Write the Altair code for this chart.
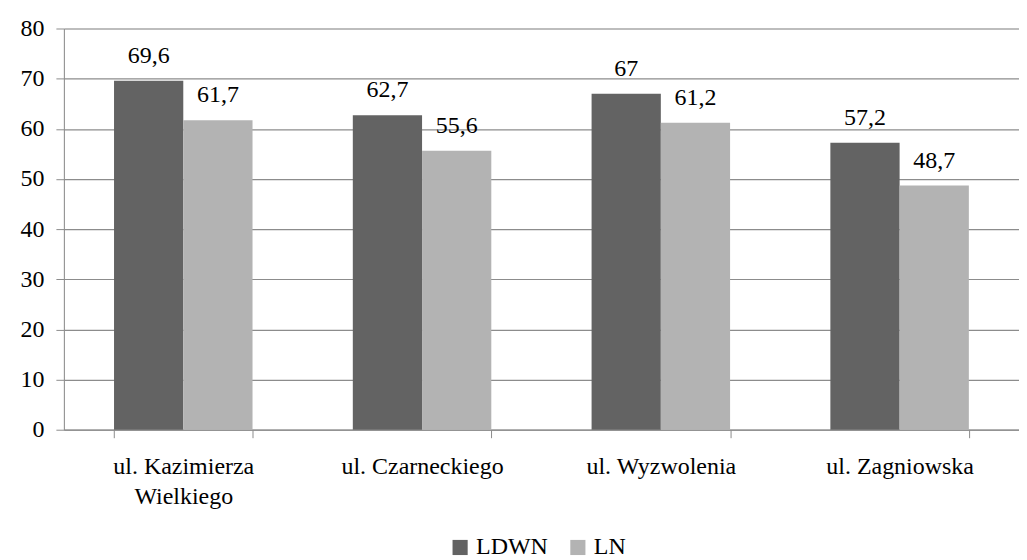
import altair as alt
import pandas as pd

categories = ["ul. Kazimierza\nWielkiego", "ul. Czarneckiego", "ul. Wyzwolenia", "ul. Zagniowska"]
series = ["LDWN", "LN"]
ldwn = [69.6, 62.7, 67, 57.2]
ln = [61.7, 55.6, 61.2, 48.7]
colors = ["#636363", "#b3b3b3"]

rows = []
for i, c in enumerate(categories):
    rows.append({"cat": c, "series": "LDWN", "value": ldwn[i]})
    rows.append({"cat": c, "series": "LN", "value": ln[i]})
df = pd.DataFrame(rows)

FONT = "'Liberation Serif', 'DejaVu Serif', serif"
FS = 24

base = alt.Chart(df).encode(
    x=alt.X("cat:N", sort=categories, title=None,
            scale=alt.Scale(paddingInner=0.42, paddingOuter=0.21),
            axis=alt.Axis(labelExpr="split(datum.label, '\\n')", labelAngle=0,
                          labelFontSize=FS, labelFont=FONT, labelColor="#000",
                          labelLineHeight=30, labelPadding=17,
                          tickBand="extent", tickSize=8, tickColor="#8c8c8c",
                          domainColor="#8c8c8c", grid=False)),
    xOffset=alt.XOffset("series:N", sort=series, scale=alt.Scale(paddingInner=0, paddingOuter=0)),
)

bars = base.mark_bar().encode(
    y=alt.Y("value:Q", title=None,
            scale=alt.Scale(domain=[0, 80], nice=False),
            axis=alt.Axis(values=list(range(0, 81, 10)), labelFontSize=FS, labelFont=FONT,
                          labelColor="#000", labelPadding=12, tickSize=8,
                          tickColor="#8c8c8c", domainColor="#8c8c8c",
                          gridColor="#8c8c8c", gridWidth=1.2)),
    color=alt.Color("series:N", sort=series,
                    scale=alt.Scale(domain=series, range=colors),
                    legend=alt.Legend(orient="none", legendX=385, legendY=508,
                                      title=None, direction="horizontal",
                                      symbolType="square", symbolSize=230, symbolStrokeWidth=0,
                                      labelFontSize=FS, labelFont=FONT, labelColor="#000",
                                      columnPadding=18, symbolOffset=0)),
)

text = base.mark_text(baseline="alphabetic", dy=-18, fontSize=FS, font=FONT, color="#000").encode(
    y=alt.Y("value:Q"),
    text=alt.Text("label:N"),
).transform_calculate(label="replace(toString(datum.value), '.', ',')")

chart = alt.layer(bars, text).properties(
    width=957, height=402,
    padding={"top": 8, "left": 12, "right": 0, "bottom": 0},
).configure_view(stroke=None).configure(background="#ffffff")

chart.save("out.html", embed_options={"renderer": "svg", "actions": False})
